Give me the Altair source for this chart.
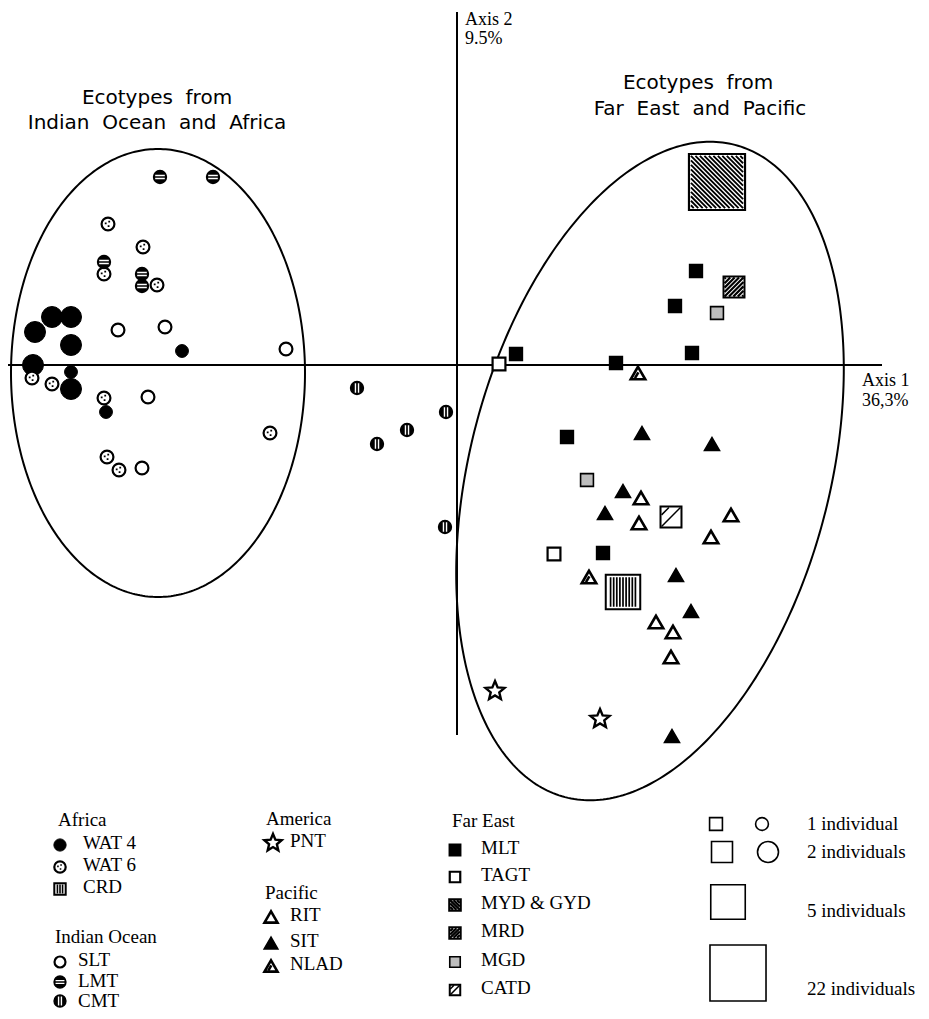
import math
import numpy as np
import pandas as pd
import altair as alt

# ---------------- data: scores on Axis 1 (x) and Axis 2 (y) ----------------
WAT4_X = [-4.05, -3.86, -4.22, -3.86, -4.24, -3.86, -3.86, -2.75, -3.51]
WAT4_Y = [0.48, 0.48, 0.33, 0.20, 0.00, -0.07, -0.24, 0.14, -0.47]
WAT4_N = [2, 2, 2, 2, 2, 1, 2, 1, 1]
WAT6_X = [-3.49, -3.14, -3.53, -3.00, -4.25, -4.05, -3.53, -1.87, -3.50, -3.38]
WAT6_Y = [1.41, 1.18, 0.91, 0.80, -0.13, -0.19, -0.33, -0.68, -0.92, -1.05]
CRD_X = [1.66]
CRD_Y = [-2.27]
CRD_N = [5]
SLT_X = [-3.39, -2.92, -1.71, -3.09, -3.15]
SLT_Y = [0.35, 0.38, 0.16, -0.32, -1.03]
LMT_X = [-2.97, -2.44, -3.53, -3.15, -3.15]
LMT_Y = [1.88, 1.88, 1.03, 0.91, 0.79]
CMT_X = [-1.00, -0.11, -0.50, -0.80, -0.12]
CMT_Y = [-0.23, -0.47, -0.65, -0.79, -1.62]
PNT_X = [0.38, 1.43]
PNT_Y = [-3.26, -3.54]
RIT_X = [1.84, 1.82, 2.74, 2.54, 1.99, 2.16, 2.14]
RIT_Y = [-1.33, -1.58, -1.50, -1.72, -2.57, -2.67, -2.92]
SIT_X = [1.85, 2.55, 1.66, 1.48, 2.19, 2.34, 2.15]
SIT_Y = [-0.68, -0.79, -1.26, -1.48, -2.10, -2.46, -3.71]
NLAD_X = [1.81, 1.32]
NLAD_Y = [-0.08, -2.12]
MLT_X = [2.39, 2.18, 2.35, 0.59, 1.59, 1.10, 1.46]
MLT_Y = [0.94, 0.59, 0.12, 0.11, 0.02, -0.72, -1.88]
TAGT_X = [0.42, 0.97]
TAGT_Y = [0.01, -1.89]
MYD_X = [2.60]
MYD_Y = [1.83]
MYD_N = [22]
MRD_X = [2.77]
MRD_Y = [0.78]
MRD_N = [2]
MGD_X = [2.60, 1.30]
MGD_Y = [0.52, -1.15]
CATD_X = [2.14]
CATD_Y = [-1.52]
CATD_N = [2]

# confidence ellipses: centre, semi-axes, tilt of the long axis from vertical (deg)
ELLIPSES = {
    "Indian Ocean and Africa": dict(cx=-2.99, cy=-0.08, major=2.24, minor=1.47, tilt=0.0),
    "Far East and Pacific": dict(cx=1.93, cy=-1.06, major=3.37, minor=1.80, tilt=14.6),
}

SIZE_COUNTS = [1, 2, 5, 22]
SIZE_LABELS = ["1 individual", "2 individuals", "5 individuals", "22 individuals"]

LEGEND = [
    ("Africa", [("WAT4", "WAT 4"), ("WAT6", "WAT 6"), ("CRD", "CRD")]),
    ("Indian Ocean", [("SLT", "SLT"), ("LMT", "LMT"), ("CMT", "CMT")]),
    ("America", [("PNT", "PNT")]),
    ("Pacific", [("RIT", "RIT"), ("SIT", "SIT"), ("NLAD", "NLAD")]),
    ("Far East", [("MLT", "MLT"), ("TAGT", "TAGT"), ("MYD", "MYD & GYD"),
                  ("MRD", "MRD"), ("MGD", "MGD"), ("CATD", "CATD")]),
]

rows = []
def add(eco, xs, ys, ns=None):
    for i, (a, b) in enumerate(zip(xs, ys)):
        rows.append(dict(eco=eco, x=a, y=b, n=(ns[i] if ns else 1)))

add("WAT4", WAT4_X, WAT4_Y, WAT4_N)
add("WAT6", WAT6_X, WAT6_Y)
add("SLT", SLT_X, SLT_Y)
add("LMT", LMT_X, LMT_Y)
add("CMT", CMT_X, CMT_Y)
add("CRD", CRD_X, CRD_Y, CRD_N)
add("MLT", MLT_X, MLT_Y)
add("TAGT", TAGT_X, TAGT_Y)
add("MYD", MYD_X, MYD_Y, MYD_N)
add("MRD", MRD_X, MRD_Y, MRD_N)
add("MGD", MGD_X, MGD_Y)
add("CATD", CATD_X, CATD_Y, CATD_N)
add("RIT", RIT_X, RIT_Y)
add("SIT", SIT_X, SIT_Y)
add("NLAD", NLAD_X, NLAD_Y)
add("PNT", PNT_X, PNT_Y)
points = pd.DataFrame(rows)

# ---------------- geometry / styles ----------------
W, H = 913, 1003
X_MIN, X_MAX = -4.49, 4.64
Y_MIN, Y_MAX = -6.46, 3.57
XS = alt.Scale(domain=[X_MIN, X_MAX], nice=False, zero=False)
YS = alt.Scale(domain=[Y_MIN, Y_MAX], nice=False, zero=False)
SIZE = alt.Scale(domain=SIZE_COUNTS, range=[165, 440, 1190, 3140], zero=False, nice=False)

def sx(px):  # page layout pixel -> axis-1 units
    return (px - 457) / 100.0

def sy(py):
    return (365 - py) / 100.0

def hatch(direction, step, lim=0.9):
    cs = [0.0]
    k = 1
    while k * step < 2 * lim - 0.05:
        cs += [k * step, -k * step]
        k += 1
    segs = []
    for c in sorted(cs):
        if direction == "\\":
            if c >= 0:
                p1, p2 = (-lim, -lim + c), (lim - c, lim)
            else:
                p1, p2 = (-lim - c, -lim), (lim, lim + c)
        elif direction == "/":
            if c >= 0:
                p1, p2 = (c - lim, lim), (lim, c - lim)
            else:
                p1, p2 = (-lim, c + lim), (c + lim, -lim)
        else:  # vertical
            if abs(c) > lim:
                continue
            p1, p2 = (c, -lim), (c, lim)
        segs.append(f"M{p1[0]:.3f},{p1[1]:.3f}L{p2[0]:.3f},{p2[1]:.3f}")
    return " ".join(segs)

def star_path(inner=0.45):
    pts = []
    for k in range(10):
        a = -math.pi / 2 + k * math.pi / 5
        r = 1.0 if k % 2 == 0 else inner
        pts.append(f"{r * math.cos(a):.3f},{r * math.sin(a):.3f}")
    return "M" + " L".join(pts) + " Z"

DOTS = "M-0.5,-0.25h0.28v0.28h-0.28z M0.05,-0.5h0.28v0.28h-0.28z M-0.05,0.2h0.28v0.28h-0.28z"
HSTR = "M-0.75,-0.24L0.75,-0.24 M-0.75,0.24L0.75,0.24"
VSTR = "M-0.24,-0.75L-0.24,0.75 M0.24,-0.75L0.24,0.75"
CATD_P = "M-0.9,0.9L0.9,-0.9 M-0.9,-0.2L-0.2,-0.9"
NLAD_P = "M-0.42,0.72L0.05,-0.1"
STAR = star_path()

# style per ecotype (sized=True -> symbol area from the individuals scale)
STYLE = {
    "WAT4": dict(shape="circle", fill="black", stroke="black", sw=1.0, sized=True, lsize=150),
    "WAT6": dict(shape="circle", fill="white", stroke="black", sw=2.2, sized=True, lsize=130,
                 ov=DOTS, ov_mode="fill", ov_col="black"),
    "SLT": dict(shape="circle", fill="white", stroke="black", sw=2.2, sized=True, lsize=120),
    "LMT": dict(shape="circle", fill="black", stroke="black", sw=1.5, sized=True, lsize=140,
                ov=HSTR, ov_mode="stroke", ov_col="white", ov_sw=1.4),
    "CMT": dict(shape="circle", fill="black", stroke="black", sw=1.5, sized=True, lsize=140,
                ov=VSTR, ov_mode="stroke", ov_col="white", ov_sw=1.4),
    "CRD": dict(shape="square", fill="white", stroke="black", sw=2.0, sized=True, lsize=130,
                ov=hatch("|", 0.18, 0.85), ov_mode="stroke", ov_col="black", ov_sw=1.7,
                lov=hatch("|", 0.45, 0.8), lov_sw=1.6),
    "MLT": dict(shape="square", fill="black", stroke="black", sw=1.5, sized=True, lsize=130),
    "TAGT": dict(shape="square", fill="white", stroke="black", sw=2.2, sized=True, lsize=110),
    "MYD": dict(shape="square", fill="white", stroke="black", sw=2.2, sized=True, lsize=130,
                ov=hatch("\\", 0.16, 0.93), ov_mode="stroke", ov_col="black", ov_sw=1.9,
                lov=hatch("\\", 0.6, 0.85), lov_sw=2.2),
    "MRD": dict(shape="square", fill="white", stroke="black", sw=2.0, sized=True, lsize=130,
                ov=hatch("/", 0.42, 0.9), ov_mode="stroke", ov_col="black", ov_sw=2.2,
                lov=hatch("/", 0.6, 0.85), lov_sw=2.2),
    "MGD": dict(shape="square", fill="#bdbdbd", stroke="black", sw=1.6, sized=True, lsize=110),
    "CATD": dict(shape="square", fill="white", stroke="black", sw=2.0, sized=True, lsize=110,
                 ov=CATD_P, ov_mode="stroke", ov_col="black", ov_sw=1.5),
    "RIT": dict(shape="triangle-up", fill="white", stroke="black", sw=2.6, size=210, lsize=170),
    "SIT": dict(shape="triangle-up", fill="black", stroke="black", sw=1.5, size=230, lsize=190),
    "NLAD": dict(shape="triangle-up", fill="white", stroke="black", sw=2.6, size=210, lsize=170,
                 ov=NLAD_P, ov_mode="stroke", ov_col="black", ov_sw=2.6),
    "PNT": dict(shape=STAR, fill="white", stroke="black", sw=2.4, size=400, lsize=330),
}

def pos():
    return dict(x=alt.X("x:Q", scale=XS, axis=None), y=alt.Y("y:Q", scale=YS, axis=None))

def symbol_layers(data, legend=False):
    out = []
    for eco, st in STYLE.items():
        base = alt.Chart(data).transform_filter(alt.datum.eco == eco)
        if legend:
            size = alt.value(st["lsize"])
        elif st.get("sized"):
            size = alt.Size("n:Q", scale=SIZE, legend=None)
        else:
            size = alt.value(st["size"])
        out.append(base.mark_point(shape=st["shape"], filled=True, fill=st["fill"],
                                   stroke=st["stroke"], strokeWidth=st["sw"], opacity=1)
                   .encode(**pos(), size=size))
        ov = st.get("ov")
        if ov:
            path = st.get("lov", ov) if legend else ov
            sw = st.get("lov_sw", st.get("ov_sw", 1)) if legend else st.get("ov_sw", 1)
            if st["ov_mode"] == "fill":
                m = base.mark_point(shape=path, filled=True, fill=st["ov_col"],
                                    strokeWidth=0, opacity=1)
            else:
                m = base.mark_point(shape=path, filled=False, stroke=st["ov_col"],
                                    strokeWidth=sw, opacity=1, strokeCap="butt")
            out.append(m.encode(**pos(), size=size))
    return out

# ---------------- ellipses and axes ----------------
ell_rows = []
for name, e in ELLIPSES.items():
    th = math.radians(e["tilt"])
    u = (math.sin(th), math.cos(th))
    v = (math.cos(th), -math.sin(th))
    for i, t in enumerate(np.linspace(0, 2 * math.pi, 361)):
        ell_rows.append(dict(g=name, o=i,
                             x=e["cx"] + e["major"] * math.cos(t) * u[0] + e["minor"] * math.sin(t) * v[0],
                             y=e["cy"] + e["major"] * math.cos(t) * u[1] + e["minor"] * math.sin(t) * v[1]))
ell_df = pd.DataFrame(ell_rows)
ellipses = alt.Chart(ell_df).mark_line(color="black", strokeWidth=2).encode(
    **pos(), detail="g:N", order="o:Q")

axes_df = pd.DataFrame([
    dict(x=X_MIN, x2=sx(882), y=0.0, y2=0.0),
    dict(x=0.0, x2=0.0, y=sy(12), y2=sy(735)),
])
axes = alt.Chart(axes_df).mark_rule(color="black", strokeWidth=2).encode(
    x=alt.X("x:Q", scale=XS, axis=None), x2="x2:Q",
    y=alt.Y("y:Q", scale=YS, axis=None), y2="y2:Q")

# ---------------- texts ----------------
NB = "\u00a0 "   # wide word spacing as in the printed figure
texts = []
def txt(px, py, s, style):
    texts.append(dict(x=sx(px), y=sy(py), text=s, st=style))

txt(465, 25, "Axis 2", "axis")
txt(465, 44, "9.5%", "axis")
txt(862, 386, "Axis 1", "axis")
txt(862, 406, "36,3%", "axis")
txt(157, 104, NB.join(["Ecotypes", "from"]), "title")
txt(157, 129, NB.join(["Indian", "Ocean", "and", "Africa"]), "title")
txt(698, 89, NB.join(["Ecotypes", "from"]), "title")
txt(700, 115, NB.join(["Far", "East", "and", "Pacific"]), "title")

# legend layout (page pixels): header x, symbol x, label x, header y, symbol ys, label ys
COLS = {"Africa": (58, 60, 83, 820, [845, 867, 889], [843, 865, 887]),
        "Indian Ocean": (55, 60, 78, 937, [962, 982, 1001], [960, 981, 1001]),
        "America": (266, 273, 290, 819, [843], [841]),
        "Pacific": (265, 271, 290, 893, [917, 943, 966], [915, 941, 964]),
        "Far East": (452, 455, 481, 821, [850, 877, 905, 933, 962, 990],
                     [848, 875, 903, 931, 960, 988])}
leg_rows = []
for head, items in LEGEND:
    hx, symx, tx, hy, ys, tys = COLS[head]
    txt(hx, hy, head, "leg")
    for (eco, label), yy, ty in zip(items, ys, tys):
        leg_rows.append(dict(eco=eco, x=sx(symx), y=sy(yy), n=1))
        txt(tx, ty, label, "leg")
leg_df = pd.DataFrame(leg_rows)

size_rows = [
    dict(shape="square", x=sx(716), y=sy(824), n=SIZE_COUNTS[0]),
    dict(shape="circle", x=sx(762), y=sy(824), n=SIZE_COUNTS[0]),
    dict(shape="square", x=sx(722), y=sy(852), n=SIZE_COUNTS[1]),
    dict(shape="circle", x=sx(768), y=sy(852), n=SIZE_COUNTS[1]),
    dict(shape="square", x=sx(728), y=sy(902), n=SIZE_COUNTS[2]),
    dict(shape="square", x=sx(738), y=sy(973), n=SIZE_COUNTS[3]),
]
size_df = pd.DataFrame(size_rows)
for lab, yy in zip(SIZE_LABELS, [824, 852, 911, 989]):
    txt(807, yy, lab, "leg")

size_layers = []
for shp in ["square", "circle"]:
    size_layers.append(alt.Chart(size_df).transform_filter(alt.datum.shape == shp)
                       .mark_point(shape=shp, filled=True, fill="white", stroke="black",
                                   strokeWidth=1.6, opacity=1)
                       .encode(**pos(), size=alt.Size("n:Q", scale=SIZE, legend=None)))

text_df = pd.DataFrame(texts)
TSTYLE = {
    "axis": dict(font="Liberation Serif", fontSize=18, align="left", baseline="alphabetic"),
    "title": dict(font="DejaVu Sans", fontSize=20, align="center", baseline="alphabetic"),
    "leg": dict(font="Liberation Serif", fontSize=19, align="left", baseline="middle"),
}
text_layers = [alt.Chart(text_df).transform_filter(alt.datum.st == k)
               .mark_text(color="black", **v).encode(**pos(), text="text:N")
               for k, v in TSTYLE.items()]

chart = alt.layer(
    ellipses, axes,
    *symbol_layers(points),
    *symbol_layers(leg_df, legend=True),
    *size_layers,
    *text_layers,
).properties(
    width=W, height=H, padding=0,
    autosize=alt.AutoSizeParams(type="none"),
    background="white",
).configure_view(strokeWidth=0)

chart.save("out.html", embed_options={"renderer": "svg", "actions": False})
